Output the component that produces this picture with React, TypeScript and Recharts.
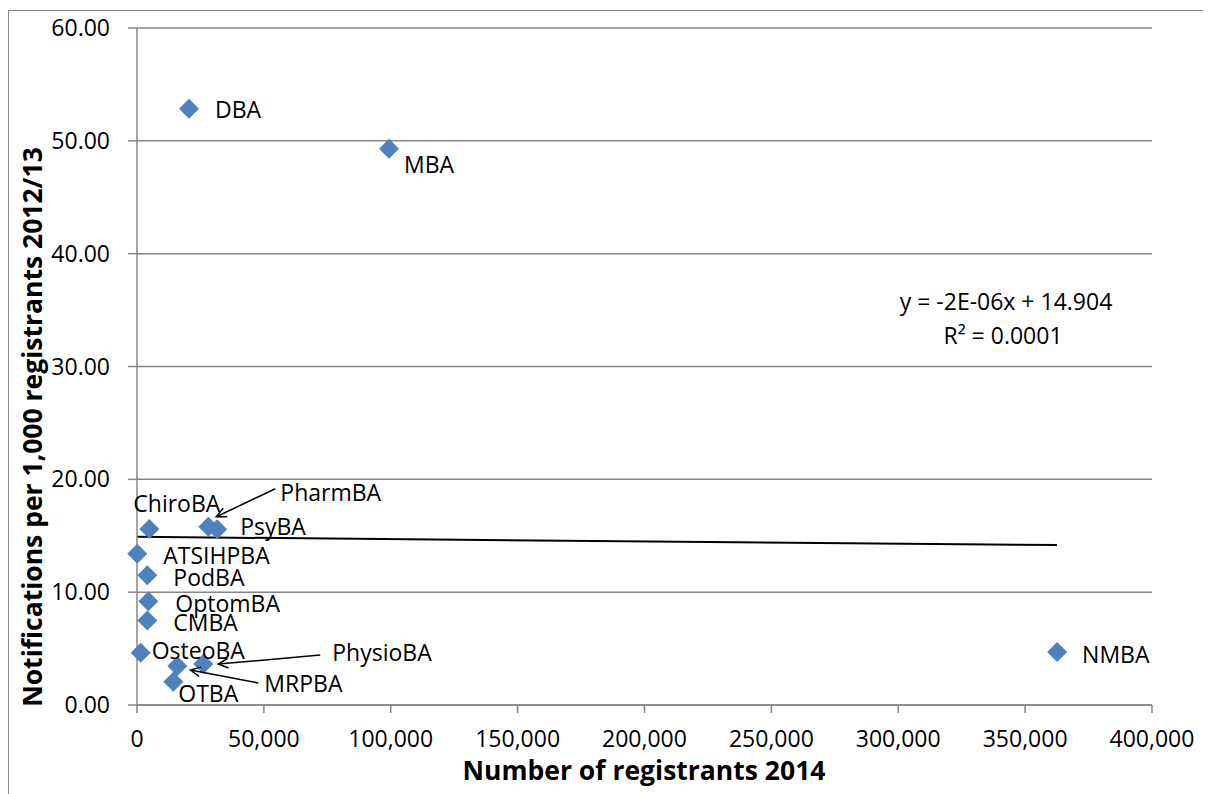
import {
  ComposedChart,
  Scatter,
  XAxis,
  YAxis,
  CartesianGrid,
  ReferenceLine,
  Customized,
} from "recharts";

const boards = [
  "DBA", "MBA", "NMBA", "ChiroBA", "PharmBA", "PsyBA", "ATSIHPBA",
  "PodBA", "OptomBA", "CMBA", "OsteoBA", "MRPBA", "PhysioBA", "OTBA",
];
const registrants = [
  20500, 99300, 362600, 4850, 28100, 31600, 100,
  4060, 4450, 4060, 1450, 15900, 26100, 14300,
];
const notificationRates = [
  52.84, 49.29, 4.7, 15.6, 15.8, 15.57, 13.4,
  11.5, 9.19, 7.5, 4.64, 3.46, 3.63, 2.07,
];
const xTicks = [0, 50000, 100000, 150000, 200000, 250000, 300000, 350000, 400000];
const yTicks = [0, 10, 20, 30, 40, 50, 60];
const trendSlope = -2e-6;
const trendIntercept = 14.904;
const trendEquation = "y = -2E-06x + 14.904";
const trendR2 = "R² = 0.0001";

const points = boards.map((name, i) => ({
  name,
  x: registrants[i],
  y: notificationRates[i],
}));

const trendStart = Math.min(...registrants);
const trendEnd = Math.max(...registrants);

// label placement relative to the marker (pixels), with optional leader line
type LabelPos = { dx: number; dy: number; leader?: [number, number, number, number] };
const labelPos: Record<string, LabelPos> = {
  DBA: { dx: 26, dy: 0 },
  MBA: { dx: 15, dy: 15 },
  NMBA: { dx: 25, dy: 2 },
  ChiroBA: { dx: -16, dy: -26 },
  PharmBA: { dx: 72, dy: -35, leader: [67, -38, 8, -10] },
  PsyBA: { dx: 23, dy: -3 },
  ATSIHPBA: { dx: 26, dy: 1 },
  PodBA: { dx: 26, dy: 2 },
  OptomBA: { dx: 27, dy: 2 },
  CMBA: { dx: 26, dy: 2 },
  OsteoBA: { dx: 11, dy: -3 },
  MRPBA: { dx: 87, dy: 17, leader: [81, 17, 13, 4] },
  PhysioBA: { dx: 129, dy: -12, leader: [117, -9, 15, 0] },
  OTBA: { dx: 5, dy: 11 },
};

const FONT = "'Open Sans', sans-serif";
const GRAY = "#868686";
const BLUE = "#4F81BD";

function Diamond(props: any) {
  const { cx, cy } = props;
  if (cx == null || cy == null) return null;
  const r = 10;
  return (
    <path
      d={`M${cx},${cy - r} L${cx + r},${cy} L${cx},${cy + r} L${cx - r},${cy} Z`}
      fill={BLUE}
    />
  );
}

function PointLabel(props: any) {
  const { cx, cy, payload } = props;
  if (cx == null || cy == null) return null;
  const pos = labelPos[payload.name] || { dx: 20, dy: 0 };
  let leader = null;
  if (pos.leader) {
    const [x1, y1, x2, y2] = pos.leader;
    const ax = cx + x2;
    const ay = cy + y2;
    const ang = Math.atan2(y1 - y2, x1 - x2);
    const len = 11;
    const spread = 0.45;
    const p1 = [ax + len * Math.cos(ang + spread), ay + len * Math.sin(ang + spread)];
    const p2 = [ax + len * Math.cos(ang - spread), ay + len * Math.sin(ang - spread)];
    leader = (
      <g stroke="#000" strokeWidth={1.5} fill="none">
        <line x1={cx + x1} y1={cy + y1} x2={ax} y2={ay} />
        <polyline points={`${p1[0]},${p1[1]} ${ax},${ay} ${p2[0]},${p2[1]}`} />
      </g>
    );
  }
  return (
    <g>
      {leader}
      <text
        x={cx + pos.dx}
        y={cy + pos.dy}
        dominantBaseline="central"
        fontSize={23}
        fontFamily={FONT}
        fill="#000"
      >
        {payload.name}
      </text>
    </g>
  );
}

function Titles() {
  return (
    <g fontFamily={FONT} fill="#000">
      <text x={635} y={769} textAnchor="middle" fontSize={26.5} fontWeight="bold">
        Number of registrants 2014
      </text>
      <text
        x={33}
        y={416}
        textAnchor="middle"
        fontSize={26.5}
        fontWeight="bold"
        transform="rotate(-90, 33, 416)"
      >
        Notifications per 1,000 registrants 2012/13
      </text>
      <text x={997} y={299} textAnchor="middle" fontSize={23}>
        {trendEquation}
      </text>
      <text x={994} y={333} textAnchor="middle" fontSize={23}>
        {trendR2}
      </text>
    </g>
  );
}

export default function App() {
  return (
    <div
      style={{
        position: "relative",
        top: 2,
        width: 1200,
        height: 800,
        borderLeft: "1px solid #898989",
        borderRight: "1px solid #898989",
        borderTop: "1px solid #898989",
        background: "#fff",
        fontFamily: FONT,
      }}
    >
      <style>{`body{overflow:hidden}`}</style>
      <ComposedChart
        width={1200}
        height={784}
        data={points}
        margin={{ top: 17, right: 57, left: 0, bottom: 10 }}
      >
        <CartesianGrid vertical={false} stroke={GRAY} strokeWidth={1.5} />
        <XAxis
          type="number"
          dataKey="x"
          domain={[0, 400000]}
          ticks={xTicks}
          height={80}
          stroke={GRAY}
          strokeWidth={1.5}
          tickSize={8}
          tickMargin={18}
          tick={{ fontSize: 23, fill: "#000", fontFamily: FONT }}
          tickFormatter={(v: number) => v.toLocaleString("en-US")}
          interval={0}
        />
        <YAxis
          type="number"
          dataKey="y"
          domain={[0, 60]}
          ticks={yTicks}
          width={128}
          stroke={GRAY}
          strokeWidth={1.5}
          tickSize={9}
          tickMargin={18}
          tick={{ fontSize: 23, fill: "#000", fontFamily: FONT }}
          tickFormatter={(v: number) => v.toFixed(2)}
          interval={0}
        />
        <ReferenceLine
          segment={[
            { x: trendStart, y: trendIntercept + trendSlope * trendStart },
            { x: trendEnd, y: trendIntercept + trendSlope * trendEnd },
          ]}
          stroke="#000"
          strokeWidth={2}
        />
        <Scatter
          data={points}
          dataKey="y"
          shape={Diamond}
          isAnimationActive={false}
        />
        <Scatter
          data={points}
          dataKey="y"
          shape={PointLabel}
          isAnimationActive={false}
        />
        <Customized component={Titles} />
      </ComposedChart>
    </div>
  );
}
